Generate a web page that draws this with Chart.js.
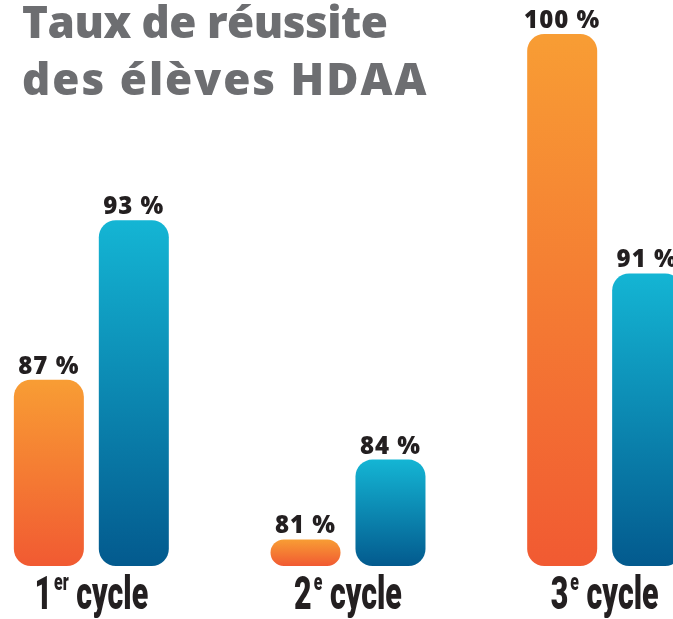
<!DOCTYPE html>
<html lang="fr">
<head>
<meta charset="utf-8">
<title>Taux de réussite des élèves HDAA</title>
<script src="https://cdn.jsdelivr.net/npm/chart.js@4.4.1/dist/chart.umd.min.js"></script>
<style>
    html, body { margin: 0; padding: 0; background: #fff; overflow: hidden; }
    #wrap { position: absolute; left: -37px; top: 0; width: 770px; height: 619px; }
</style>
</head>
<body>
<div id="wrap"><canvas id="hdaaChart" width="770" height="619"></canvas></div>
<script>
// Données
const cycleNumbers = ['1', '2', '3'];
const cycleSuffixes = ['er', 'e', 'e'];
const cycleWord = 'cycle';
const categories = cycleNumbers.map((n, i) => n + cycleSuffixes[i] + ' ' + cycleWord);
const seriesOrange = [87, 81, 100];
const seriesBlue = [93, 84, 91];
const titleLines = ['Taux de réussite', 'des élèves HDAA'];
const yMin = 80;
const yMax = 100;

// Dégradé vertical pour chaque barre
function barGradient(context, topColor, bottomColor) {
    const chart = context.chart;
    if (!chart.chartArea || !chart.scales.y) return topColor;
    const yScale = chart.scales.y;
    const y0 = yScale.getPixelForValue(context.raw);
    const y1 = yScale.getPixelForValue(yMin);
    if (!isFinite(y0) || !isFinite(y1) || y0 === y1) return topColor;
    const g = chart.ctx.createLinearGradient(0, y0, 0, y1);
    g.addColorStop(0, topColor);
    g.addColorStop(1, bottomColor);
    return g;
}

// Titre dessiné en haut à gauche
const titlePlugin = {
    id: 'bigTitle',
    afterDraw(chart) {
        const ctx = chart.ctx;
        ctx.save();
        ctx.fillStyle = '#6d6e71';
        ctx.font = '800 44px "Open Sans"';
        ctx.textAlign = 'left';
        ctx.textBaseline = 'alphabetic';
        ctx.letterSpacing = '-0.5px';
        ctx.fillText(titleLines[0], 59, 38);
        ctx.letterSpacing = '2px';
        ctx.fillText(titleLines[1], 59, 95);
        ctx.restore();
    }
};

// Étiquettes de valeur au-dessus des barres
const valueLabels = {
    id: 'valueLabels',
    afterDatasetsDraw(chart) {
        const ctx = chart.ctx;
        ctx.save();
        ctx.fillStyle = '#231f20';
        ctx.font = '800 24px "Open Sans"';
        ctx.textAlign = 'center';
        ctx.textBaseline = 'alphabetic';
        ctx.letterSpacing = '1px';
        chart.data.datasets.forEach((ds, di) => {
            chart.getDatasetMeta(di).data.forEach((bar, i) => {
                ctx.fillText(ds.data[i] + ' %', bar.x, bar.y - 6);
            });
        });
        ctx.restore();
    }
};

// Libellés des cycles avec exposant (police resserrée)
const cycleLabels = {
    id: 'cycleLabels',
    afterDraw(chart) {
        const ctx = chart.ctx;
        const xScale = chart.scales.x;
        const base = 609;
        const sx = 0.66;
        const bigFont = '900 46px Roboto';
        const smallFont = '900 24px Roboto';
        ctx.save();
        ctx.fillStyle = '#231f20';
        ctx.textAlign = 'left';
        ctx.textBaseline = 'alphabetic';
        categories.forEach((c, i) => {
            ctx.font = bigFont;
            const wNum = ctx.measureText(cycleNumbers[i]).width * sx;
            const wWord = ctx.measureText(' ' + cycleWord).width * sx;
            ctx.font = smallFont;
            const wSup = ctx.measureText(cycleSuffixes[i]).width * sx;
            const total = wNum + 2 + wSup + wWord;
            const parts = [
                [cycleNumbers[i], bigFont, 0, wNum + 2],
                [cycleSuffixes[i], smallFont, -19, wSup],
                [' ' + cycleWord, bigFont, 0, wWord],
            ];
            let x = xScale.getPixelForValue(i) - total / 2;
            parts.forEach(([txt, font, dy, w]) => {
                ctx.save();
                ctx.translate(x, base + dy);
                ctx.scale(sx, 1);
                ctx.font = font;
                ctx.fillText(txt, 0, 0);
                ctx.restore();
                x += w;
            });
        });
        ctx.restore();
    }
};

const barStyle = {
    base: yMin,
    borderRadius: 17,
    borderSkipped: false,
    barPercentage: 0.824,
    categoryPercentage: 0.662,
};

const config = {
    type: 'bar',
    data: {
        labels: categories,
        datasets: [
            {
                label: 'Série 1',
                data: seriesOrange,
                backgroundColor: (c) => barGradient(c, '#f89d34', '#f15a32'),
                ...barStyle,
            },
            {
                label: 'Série 2',
                data: seriesBlue,
                backgroundColor: (c) => barGradient(c, '#14b5d4', '#035a8e'),
                ...barStyle,
            },
        ],
    },
    options: {
        responsive: false,
        animation: false,
        layout: { padding: { top: 34, bottom: 53, left: 0, right: 0 } },
        plugins: {
            legend: { display: false },
            tooltip: { enabled: false },
            title: { display: false },
        },
        scales: {
            x: { display: false },
            y: { display: false, min: yMin, max: yMax },
        },
    },
    plugins: [titlePlugin, valueLabels, cycleLabels],
};

new Chart(document.getElementById('hdaaChart').getContext('2d'), config);
</script>
</body>
</html>
